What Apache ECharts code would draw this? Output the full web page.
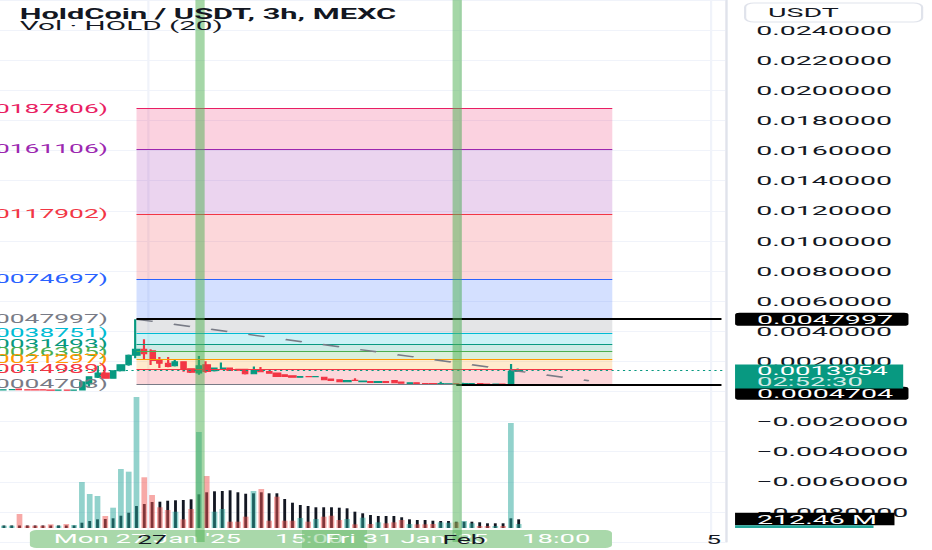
<!DOCTYPE html>
<html><head><meta charset="utf-8">
<script src="https://cdn.jsdelivr.net/npm/echarts/dist/echarts.min.js"></script>
<style>
html,body{margin:0;padding:0;background:#fff;overflow:hidden;width:932px;height:550px}
#wrap{width:932px;height:550px;overflow:hidden;position:relative}
#chart{width:424px;height:550px;transform:scaleX(2.19811);transform-origin:0 0;position:absolute;left:0;top:0}
</style></head><body><div id="wrap"><div id="chart"></div></div>
<script>
// ---------- data ----------
const startTime = Date.UTC(2025, 0, 24, 15, 0); // first candle, 3h bars
const barCount = 93;
const categories = [];
for (let i = 0; i < barCount; i++) {
  const d = new Date(startTime + i * 3 * 3600 * 1000);
  const p = n => String(n).padStart(2, '0');
  categories.push(d.getUTCFullYear() + '-' + p(d.getUTCMonth() + 1) + '-' + p(d.getUTCDate()) + ' ' + p(d.getUTCHours()) + ':00');
}
const xTickLabels = [['2025-01-27 00:00', '27'], ['2025-02-01 00:00', 'Feb'], ['2025-02-05 00:00', '5']];

// [open, close, low, high]
const candles = [
 [0.00009,0.00012,0.00008,0.00014],[0.00011,0.00013,0.00010,0.00015],[0.00016,0.00011,0.00010,0.00018],
 [0.00012,0.00010,0.00009,0.00013],[0.00011,0.00010,0.00009,0.00012],[0.00011,0.00009,0.00008,0.00012],
 [0.00010,0.00008,0.00007,0.00011],[0.00008,0.00010,0.00007,0.00011],[0.00010,0.00008,0.00007,0.00012],
 [0.00008,0.00010,0.00007,0.00012],[0.00010,0.00062,0.00008,0.00068],[0.00050,0.00098,0.00032,0.00100],
 [0.00095,0.00122,0.00090,0.00170],[0.00122,0.00088,0.00085,0.00130],[0.00088,0.00137,0.00085,0.00140],
 [0.00137,0.00177,0.00133,0.00180],[0.00177,0.00240,0.00170,0.00245],[0.00240,0.00281,0.00220,0.0047997],
 [0.00281,0.00250,0.00210,0.00347],[0.00270,0.00205,0.00176,0.00280],[0.00212,0.00188,0.00155,0.00228],
 [0.00188,0.00165,0.00160,0.00228],[0.00170,0.00197,0.00165,0.00215],[0.00197,0.00148,0.00130,0.00200],
 [0.00150,0.00128,0.00122,0.00152],[0.00122,0.00170,0.00111,0.00236],[0.00177,0.00132,0.00125,0.00200],
 [0.00137,0.00155,0.00132,0.00158],[0.00150,0.00155,0.00145,0.00192],[0.00155,0.00139,0.00135,0.00157],
 [0.00148,0.00140,0.00136,0.00150],[0.00148,0.00117,0.00112,0.00150],[0.00117,0.00139,0.00115,0.00165],
 [0.00143,0.00130,0.00127,0.00163],[0.00132,0.00121,0.00118,0.00133],[0.00122,0.00099,0.00096,0.00124],
 [0.00111,0.00099,0.00097,0.00113],[0.00104,0.00095,0.00093,0.00105],[0.00095,0.00100,0.00093,0.00103],
 [0.00100,0.00097,0.00095,0.00102],[0.00097,0.00099,0.00095,0.00101],[0.00095,0.00077,0.00075,0.00097],
 [0.00083,0.00073,0.00070,0.00085],[0.00077,0.00064,0.00062,0.00078],[0.00064,0.00073,0.00062,0.00075],
 [0.00075,0.00072,0.00070,0.00088],[0.00064,0.00069,0.00062,0.00072],[0.00066,0.00060,0.00058,0.00068],
 [0.00060,0.00066,0.00058,0.00069],[0.00066,0.00060,0.00058,0.00067],[0.00073,0.00058,0.00056,0.00074],
 [0.00062,0.00055,0.00053,0.00063],[0.00053,0.00058,0.00050,0.00060],[0.00058,0.00051,0.00050,0.00059],
 [0.00053,0.00050,0.00049,0.00054],[0.00052,0.00049,0.00048,0.00053],[0.00049,0.00052,0.00048,0.00064],
 [0.00049,0.00051,0.00048,0.00053],[0.00051,0.00048,0.0004703,0.00052],[0.00048,0.00052,0.00047,0.00058],
 [0.00050,0.00052,0.00048,0.00054],[0.00052,0.00049,0.00048,0.00053],[0.00050,0.00048,0.00047,0.00051],
 [0.00048,0.00050,0.00047,0.00052],[0.00050,0.00048,0.00047,0.00051],[0.00048,0.00132,0.00047,0.00183],
 [0.00132,0.0013954,0.00130,0.00152]
];
// volume, millions
const volumes = [55,55,330,55,55,55,87,55,94,71,1086,802,755,283,479,1392,1329,3092,1197,779,
 489,425,385,205,448,2266,1227,385,448,149,149,267,873,920,172,739,172,172,236,149,
 212,267,290,189,212,87,243,94,134,111,134,189,94,87,87,94,134,125,134,165,
 111,47,47,47,47,2478,94];
// Vol (20) average histogram, millions
const volumeMA = [60,60,60,60,60,60,60,60,60,60,125,165,205,212,229,290,361,519,566,614,
 621,644,654,661,677,795,843,866,873,890,843,809,819,843,819,819,684,597,543,519,
 489,489,489,479,465,385,347,307,283,283,283,253,205,189,189,172,165,165,149,149,
 149,135,111,111,111,229,205];

const fibRatios = ['4.236','3.618','2.618','1.618','1','0.786','0.618','0.5','0.382','0.236','0'];
const fibPrices = [0.0187806,0.0161106,0.0117902,0.0074697,0.0047997,0.0038751,0.0031493,0.0026395,0.0021297,0.0014989,0.0004703];
const fibColors = ['#e91e63','#9c27b0','#f23645','#2962ff','#787b86','#00bcd4','#089981','#4caf50','#ff9800','#f23645','#787b86'];
const fibFrom = 17, fibTo = 78;          // candle indices of the fib tool
const trendLine = [[17, 0.0047997], [75, 0.00071]];
const highRay = {from: 17, price: 0.0047997, text: '0.0047997'};
const lowRay = {from: 58, price: 0.0004703, text: '0.0004704'};
const lastPrice = 0.0013954, countdown = '02:52:30';
const lastVolumeText = '212.46 M', lastVolumeLevel = 212.46;
const highlightBars = [25, 58];
const rangeLabels = ["Mon 27 Jan '25", '15:00', "Fri 31 Jan '25", '18:00'];

// ---------- build ----------
const UP = '#089981', DOWN = '#f23645';
const FONT = 'Roboto';
function rgba(hex, a) {
  const n = parseInt(hex.slice(1), 16);
  return 'rgba(' + (n >> 16) + ',' + ((n >> 8) & 255) + ',' + (n & 255) + ',' + a + ')';
}
const tickMap = {};
xTickLabels.forEach(t => tickMap[t[0]] = t[1]);
const lastIdx = barCount - 1;

const fibAreas = [];
for (let k = 0; k < fibPrices.length - 1; k++) {
  fibAreas.push([{coord: [fibFrom, fibPrices[k]], itemStyle: {color: rgba(fibColors[k], 0.2)}},
                 {coord: [fibTo, fibPrices[k + 1]]}]);
}
const priceLines = [];
fibPrices.forEach((p, k) => {
  priceLines.push([{coord: [fibFrom, p],
    lineStyle: {color: fibColors[k], width: 1, type: 'solid', opacity: 1},
    label: {show: true, position: 'start', offset: [-8, 0], formatter: fibRatios[k] + '(' + p.toFixed(7) + ')',
            color: fibColors[k], fontSize: 12, fontFamily: FONT}},
    {coord: [fibTo, p]}]);
});
priceLines.push([{coord: trendLine[0], lineStyle: {color: '#787b86', width: 1.5, type: [7.7, 10]}, label: {show: false}},
                 {coord: trendLine[1]}]);
const boxLabel = (txt, dist, off) => ({show: true, position: 'end', distance: dist, formatter: txt,
  color: '#fff', backgroundColor: '#000', fontSize: 13, lineHeight: 13, padding: [0, 7, 0, 10],
  fontFamily: FONT, borderRadius: 2, offset: off || [0, 0]});
priceLines.push([{coord: [highRay.from, highRay.price], lineStyle: {color: '#000', width: 2, type: 'solid'},
                  label: boxLabel(highRay.text, 6.2)}, {coord: [lastIdx, highRay.price]}]);
priceLines.push([{coord: [lowRay.from, lowRay.price], lineStyle: {color: '#000', width: 2, type: 'solid'},
                  label: boxLabel(lowRay.text, 6.2, [0, 9])}, {coord: [lastIdx, lowRay.price]}]);
priceLines.push({yAxis: lastPrice, lineStyle: {color: UP, width: 1, type: [1, 1.6]},
  label: {show: true, position: 'end', distance: 4.4, backgroundColor: UP, padding: [1, 7, 1, 10],
    offset: [0, 6], fontFamily: FONT,
    formatter: '{a|' + lastPrice.toFixed(7) + '}\n{b|' + countdown + '}',
    rich: {a: {color: '#fff', fontSize: 12.5, lineHeight: 11, fontFamily: FONT},
           b: {color: 'rgba(255,255,255,0.82)', fontSize: 12.5, lineHeight: 11, fontFamily: FONT}}}});
highlightBars.forEach(i => priceLines.push({xAxis: categories[i],
  lineStyle: {color: 'rgba(76,175,80,0.5)', width: 4.2, type: 'solid'}, label: {show: false}}));

const volData = volumes.map((v, i) => ({value: v,
  itemStyle: {color: candles[i][1] >= candles[i][0] ? 'rgba(38,166,154,0.5)' : 'rgba(239,83,80,0.5)'}}));

const bandText = (x, t) => ({type: 'text', z: 1, x: x, y: 539,
  style: {text: t, fill: '#fff', font: '12.5px Roboto', verticalAlign: 'middle'}});

const chart = echarts.init(document.getElementById('chart'), null, {renderer: 'svg'});
chart.setOption({
  animation: false,
  textStyle: {fontFamily: FONT},
  title: {left: 9, top: 7, padding: 0, itemGap: -2, text: 'HoldCoin / USDT, 3h, MEXC', subtext: 'Vol · HOLD (20)',
    textStyle: {fontFamily: FONT, fontSize: 14, fontWeight: 'bold', color: '#131722', lineHeight: 14},
    subtextStyle: {fontFamily: FONT, fontSize: 13.5, color: '#131722', lineHeight: 13}},
  grid: [
    {left: 0, top: 0, width: 330, height: 542, containLabel: false, outerBoundsMode: 'none'},
    {left: 0, top: 380, width: 330, height: 148, containLabel: false, outerBoundsMode: 'none'}
  ],
  xAxis: [
    {gridIndex: 0, type: 'category', data: categories, boundaryGap: true,
     axisLine: {show: false}, axisTick: {show: false}, axisLabel: {show: false},
     splitLine: {show: true, interval: (i, v) => tickMap[v] !== undefined, lineStyle: {color: '#f0f3fa', width: 1}}},
    {gridIndex: 1, type: 'category', data: categories, boundaryGap: true, z: 10,
     axisLine: {show: false}, axisTick: {show: false}, splitLine: {show: false},
     axisLabel: {show: true, interval: (i, v) => tickMap[v] !== undefined, formatter: v => tickMap[v] || '',
                 color: '#131722', fontSize: 12, margin: 6, fontFamily: FONT}},
    {gridIndex: 1, type: 'category', data: categories, boundaryGap: true, show: false}
  ],
  yAxis: [
    {gridIndex: 0, type: 'value', position: 'right', min: -0.010, max: 0.026, interval: 0.002,
     axisLine: {show: true, lineStyle: {color: '#e0e3eb'}}, axisTick: {show: false},
     splitLine: {show: true, lineStyle: {color: '#f0f3fa'}},
     axisLabel: {margin: 14, fontSize: 13, color: '#131722', fontFamily: FONT,
       formatter: v => (Math.abs(v - 0.026) < 1e-9 || Math.abs(v + 0.010) < 1e-9) ? '' :
         (v < -1e-12 ? '\u2212' + Math.abs(v).toFixed(7) : Math.abs(v).toFixed(7))}},
    {gridIndex: 1, type: 'value', min: 0, max: 3493, show: false}
  ],
  series: [
    {type: 'candlestick', xAxisIndex: 0, yAxisIndex: 0, data: candles, barWidth: 2.7, clip: false, z: 3,
     itemStyle: {color: UP, color0: DOWN, borderColor: UP, borderColor0: DOWN, borderWidth: 1},
     markArea: {silent: true, data: fibAreas},
     markLine: {silent: true, precision: 10, symbol: ['none', 'none'], data: priceLines}},
    {type: 'bar', xAxisIndex: 1, yAxisIndex: 1, data: volData, barWidth: 2.6, clip: false, z: 4,
     markLine: {silent: true, precision: 10, symbol: ['none', 'none'], data: [
       {yAxis: lastVolumeLevel, lineStyle: {color: 'rgba(0,0,0,0)', width: 0},
        label: {show: true, position: 'end', distance: 4.4, formatter: lastVolumeText, color: '#fff',
                backgroundColor: '#000', fontSize: 13, lineHeight: 12.5, padding: [0, 8, 0, 10], fontFamily: FONT}},
       {yAxis: lastVolumeLevel - 0.01, lineStyle: {color: 'rgba(0,0,0,0)', width: 0},
        label: {show: true, position: 'end', distance: 4.4, formatter: ' ', backgroundColor: '#26a69a',
                width: 63, height: 2.7, fontSize: 2, lineHeight: 2.7, padding: 0, offset: [0, 7.6]}}]}},
    {type: 'bar', xAxisIndex: 2, yAxisIndex: 1, data: volumeMA, barWidth: 1.3, clip: false, z: 2,
     itemStyle: {color: '#131722'}}
  ],
  graphic: [
    {type: 'rect', z: 1, shape: {x: 339, y: 3, width: 80.5, height: 19, r: 4}, style: {fill: '#fff', stroke: '#e0e3eb', lineWidth: 1}},
    {type: 'text', z: 1, x: 349.4, y: 12.5, style: {text: 'USDT', fill: '#131722', font: '13px Roboto', verticalAlign: 'middle'}},
    {type: 'rect', z: 1, shape: {x: 13.6, y: 530, width: 264.8, height: 18, r: 3}, style: {fill: '#a9d8aa'}},
    bandText(24.5, rangeLabels[0]),
    bandText(125.1, rangeLabels[1]),
    {type: 'rect', z: 1, shape: {x: 137.4, y: 530, width: 29.6, height: 18}, style: {fill: 'rgba(76,175,80,0.35)'}},
    bandText(147.9, rangeLabels[2]),
    bandText(237.5, rangeLabels[3])
  ]
});
</script></body></html>
